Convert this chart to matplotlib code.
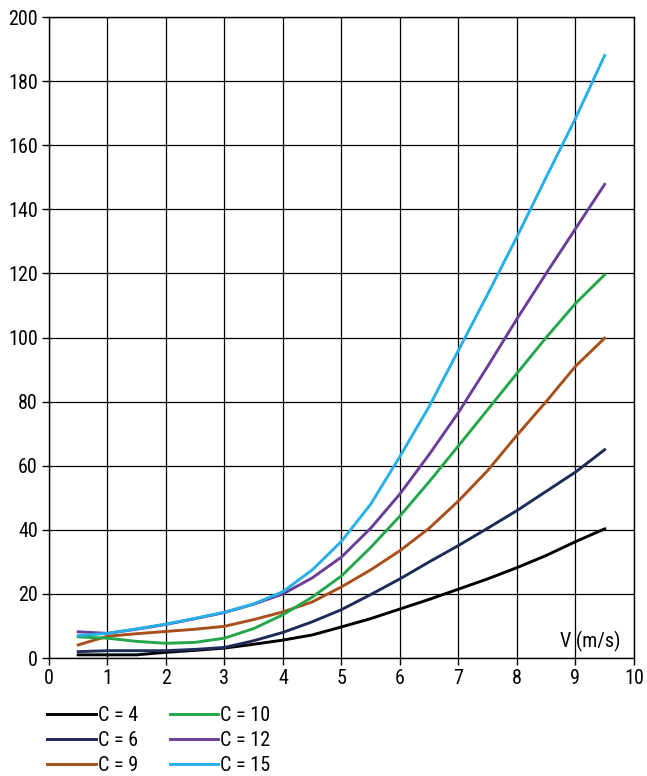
import matplotlib.pyplot as plt

# velocity values (m/s)
v = [0.5, 1, 1.5, 2, 2.5, 3, 3.5, 4, 4.5, 5, 5.5, 6, 6.5, 7, 7.5, 8, 8.5, 9, 9.5]

c4 = [1.0, 1.0, 1.0, 1.8, 2.4, 3.1, 4.3, 5.6, 7.2, 9.7, 12.3, 15.3, 18.3, 21.5, 24.7, 28.2, 32.0, 36.3, 40.3]
c6 = [2.0, 2.3, 2.3, 2.3, 2.7, 3.3, 5.4, 8.0, 11.3, 15.1, 19.8, 24.7, 30.0, 35.1, 40.5, 46.0, 52.0, 58.0, 65.0]
c9 = [4.1, 6.8, 7.6, 8.3, 9.0, 9.9, 12.0, 14.4, 17.5, 22.2, 27.5, 33.5, 40.5, 49.0, 58.5, 69.5, 80.0, 91.0, 99.8]
c10 = [6.6, 6.2, 5.2, 4.6, 4.9, 6.2, 9.2, 13.5, 19.0, 25.6, 34.5, 44.3, 55.0, 66.2, 77.5, 88.8, 100.0, 110.6, 119.6]
c12 = [8.2, 7.7, 9.0, 10.5, 12.3, 14.2, 16.8, 20.0, 25.0, 31.5, 40.5, 51.2, 63.5, 76.6, 91.0, 105.8, 120.0, 133.9, 147.8]
c15 = [7.0, 7.7, 9.1, 10.6, 12.4, 14.3, 16.9, 20.7, 27.5, 36.4, 48.0, 62.9, 78.5, 96.0, 113.5, 131.4, 150.0, 168.3, 188.0]

series = [c4, c6, c9, c10, c12, c15]
labels = ["C = 4", "C = 6", "C = 9", "C = 10", "C = 12", "C = 15"]
colors = ["#000000", "#1f2b57", "#a8501c", "#24a74b", "#6b3f98", "#27b0e8"]

plt.rcParams['font.family'] = ['Roboto Condensed', 'Liberation Sans Narrow', 'DejaVu Sans']
plt.rcParams['font.stretch'] = 'condensed'

fig = plt.figure(figsize=(6.47, 7.76), dpi=100)
ax = fig.add_axes([0.0757, 0.152, 0.904, 0.826])

for ys, lab, col in zip(series, labels, colors):
    ax.plot(v, ys, color=col, lw=2.1, label=lab, solid_joinstyle='round')

ax.set_xlim(0, 10)
ax.set_ylim(0, 200)
ax.set_xticks(range(0, 11))
ax.set_yticks(range(0, 201, 20))
ax.grid(True, color='black', lw=0.9)
ax.set_axisbelow(True)
ax.tick_params(labelsize=14.5, length=5, width=1, direction='out', pad=3)
for s in ax.spines.values():
    s.set_color('black')
    s.set_linewidth(1)

ax.text(9.25, 2, "V (m/s)", fontsize=14.5, ha='center', va='bottom')

fig.legend(loc='upper left', bbox_to_anchor=(0.073, 0.09), ncol=2,
           frameon=False, fontsize=14.5, handlelength=2.4, handletextpad=0.1,
           columnspacing=1.6, labelspacing=0.3, borderaxespad=0, borderpad=0)

fig.savefig("out.png", dpi=100)
